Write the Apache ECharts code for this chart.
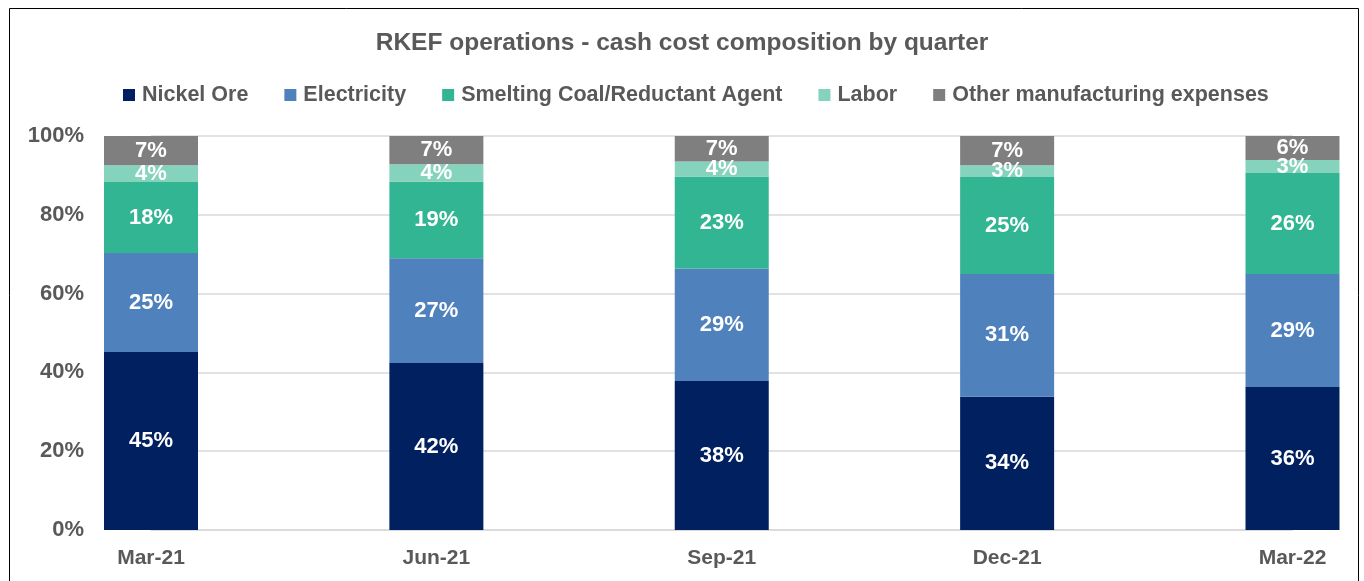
<!DOCTYPE html>
<html>
<head>
<meta charset="utf-8">
<script src="https://cdn.jsdelivr.net/npm/echarts@6/dist/echarts.min.js"></script>
<style>
 html, body { margin: 0; padding: 0; background: #fff; }
 #chart { width: 1364px; height: 581px; }
</style>
</head>
<body>
<div id="chart"></div>
<script>
// quarters and cost shares (percent of cash cost)
var quarters = ['Mar-21', 'Jun-21', 'Sep-21', 'Dec-21', 'Mar-22'];
var nickelOre = [45.2, 42.4, 37.8, 33.8, 36.3];
var electricity = [25.1, 26.6, 28.6, 31.2, 28.7];
var smeltingCoal = [18.0, 19.4, 23.3, 24.6, 25.6];
var labor = [4.3, 4.4, 3.8, 3.0, 3.3];
var otherExpenses = [7.4, 7.2, 6.5, 7.4, 6.1];
var yTicks = [0, 20, 40, 60, 80, 100];

var font = '"Liberation Sans", Arial, sans-serif';
var grey = '#595959';

function makeSeries(name, data, color) {
  return {
    name: name,
    type: 'bar',
    stack: 'total',
    data: data,
    barWidth: 94,
    itemStyle: { color: color },
    label: {
      show: true,
      position: 'inside',
      color: '#fff',
      fontFamily: font,
      fontWeight: 'bold',
      fontSize: 22,
      formatter: function (p) { return Math.round(p.value) + '%'; }
    }
  };
}

var chart = echarts.init(document.getElementById('chart'));
chart.setOption({
  animation: false,
  backgroundColor: '#fff',
  title: {
    text: 'RKEF operations - cash cost composition by quarter',
    left: 'center',
    top: 26,
    textStyle: { color: grey, fontFamily: font, fontWeight: 'bold', fontSize: 24.5 }
  },
  legend: {
    top: 79,
    left: 118,
    itemWidth: 12,
    itemHeight: 12,
    itemGap: 36,
    icon: 'rect',
    textStyle: { color: grey, fontFamily: font, fontWeight: 'bold', fontSize: 21.5, padding: [0, 0, 0, 2] }
  },
  grid: { left: 151, right: 71.5, top: 136, bottom: 51 },
  xAxis: {
    type: 'category',
    data: quarters,
    boundaryGap: false,
    axisLine: { lineStyle: { color: '#d9d9d9', width: 1.5 } },
    axisTick: { show: false },
    axisLabel: { color: grey, fontFamily: font, fontWeight: 'bold', fontSize: 21, margin: 18 }
  },
  yAxis: {
    type: 'value',
    min: yTicks[0],
    max: yTicks[yTicks.length - 1],
    interval: 20,
    axisLine: { show: false },
    axisTick: { show: false },
    splitLine: { lineStyle: { color: '#d9d9d9', width: 1.5 } },
    axisLabel: { color: grey, fontFamily: font, fontWeight: 'bold', fontSize: 22, margin: 67, formatter: '{value}%' }
  },
  graphic: [{
    type: 'rect',
    shape: { x: 9.5, y: 8.5, width: 1349, height: 640 },
    style: { fill: 'none', stroke: '#000', lineWidth: 1 },
    silent: true
  }],
  series: [
    makeSeries('Nickel Ore', nickelOre, '#002060'),
    makeSeries('Electricity', electricity, '#4f81bd'),
    makeSeries('Smelting Coal/Reductant Agent', smeltingCoal, '#32b592'),
    makeSeries('Labor', labor, '#86d3bd'),
    makeSeries('Other manufacturing expenses', otherExpenses, '#7f7f7f')
  ]
});
</script>
</body>
</html>
